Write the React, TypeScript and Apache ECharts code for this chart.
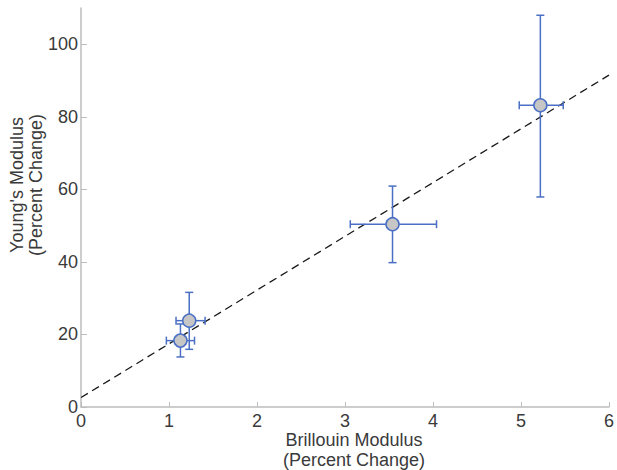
import React, { useEffect, useRef } from "react";
import * as echarts from "echarts";

const brillouin = [1.13, 1.23, 3.54, 5.22];
const young = [18.3, 23.8, 50.4, 83.2];
const xErrLow = [0.97, 1.08, 3.06, 4.98];
const xErrHigh = [1.29, 1.41, 4.04, 5.48];
const yErrLow = [13.8, 15.9, 39.8, 57.9];
const yErrHigh = [22.9, 31.6, 60.9, 108];
const fitX = [0, 6];
const fitY = [2.6, 91.5];

const BLUE = "#4a6fc4";
const AXIS = "#bdbdbd";
const TEXT = "#3a3a3a";
const FONT = "'Liberation Sans', Arial, sans-serif";

export default function App() {
  const ref = useRef<HTMLDivElement>(null);
  useEffect(() => {
    if (!ref.current) return;
    const chart = echarts.init(ref.current, undefined, { renderer: "svg" });
    const errData = brillouin.map((x, i) => [x, young[i], xErrLow[i], xErrHigh[i], yErrLow[i], yErrHigh[i]]);
    const cap = 4;
    chart.setOption({
      animation: false,
      textStyle: { fontFamily: FONT },
      grid: { left: 81, right: 6, top: 8, bottom: 63 },
      xAxis: {
        type: "value",
        min: 0,
        max: 6,
        interval: 1,
        axisLine: { show: true, lineStyle: { color: AXIS, width: 1.5 } },
        axisTick: { show: true, inside: true, length: 5, lineStyle: { color: AXIS } },
        splitLine: { show: false },
        axisLabel: { color: TEXT, fontSize: 18, margin: 5, fontFamily: FONT },
      },
      yAxis: {
        type: "value",
        min: 0,
        max: 110,
        interval: 20,
        axisLine: { show: true, lineStyle: { color: AXIS, width: 1.5 } },
        axisTick: { show: true, inside: true, length: 6, lineStyle: { color: AXIS } },
        splitLine: { show: false },
        axisLabel: { color: TEXT, fontSize: 18, margin: 3, showMaxLabel: false, fontFamily: FONT },
      },
      graphic: [
        {
          type: "text",
          x: 354,
          y: 450,
          style: {
            text: "Brillouin Modulus\n(Percent Change)",
            fill: TEXT,
            font: `18px ${FONT}`,
            align: "center",
            verticalAlign: "middle",
            lineHeight: 20,
          },
        },
        {
          type: "text",
          x: 26,
          y: 185,
          rotation: Math.PI / 2,
          style: {
            text: "Young's Modulus\n(Percent Change)",
            fill: TEXT,
            font: `18px ${FONT}`,
            align: "center",
            verticalAlign: "middle",
            lineHeight: 19,
          },
        },
      ],
      series: [
        {
          type: "line",
          data: fitX.map((x, i) => [x, fitY[i]]),
          symbol: "none",
          lineStyle: { color: "#1a1a1a", width: 1.3, type: [8, 5] },
          z: 1,
        },
        {
          type: "custom",
          data: errData,
          z: 2,
          renderItem: (params: any, api: any) => {
            const c = api.coord([api.value(0), api.value(1)]);
            const xl = api.coord([api.value(2), api.value(1)]);
            const xh = api.coord([api.value(3), api.value(1)]);
            const yl = api.coord([api.value(0), api.value(4)]);
            const yh = api.coord([api.value(0), api.value(5)]);
            const st = { stroke: BLUE, lineWidth: 1.5 };
            return {
              type: "group",
              children: [
                { type: "line", shape: { x1: xl[0], y1: c[1], x2: xh[0], y2: c[1] }, style: st },
                { type: "line", shape: { x1: c[0], y1: yl[1], x2: c[0], y2: yh[1] }, style: st },
                { type: "line", shape: { x1: xl[0], y1: c[1] - cap, x2: xl[0], y2: c[1] + cap }, style: st },
                { type: "line", shape: { x1: xh[0], y1: c[1] - cap, x2: xh[0], y2: c[1] + cap }, style: st },
                { type: "line", shape: { x1: c[0] - cap, y1: yl[1], x2: c[0] + cap, y2: yl[1] }, style: st },
                { type: "line", shape: { x1: c[0] - cap, y1: yh[1], x2: c[0] + cap, y2: yh[1] }, style: st },
              ],
            };
          },
        },
        {
          type: "scatter",
          data: brillouin.map((x, i) => [x, young[i]]),
          symbol: "circle",
          symbolSize: 13,
          itemStyle: { color: "#c6c6c6", borderColor: BLUE, borderWidth: 1.5, opacity: 1 },
          z: 3,
        },
      ],
    });
    return () => chart.dispose();
  }, []);
  return (
    <div
      ref={ref}
      style={{ position: "fixed", left: 0, top: 0, width: 617, height: 470, background: "#fff" }}
    />
  );
}
